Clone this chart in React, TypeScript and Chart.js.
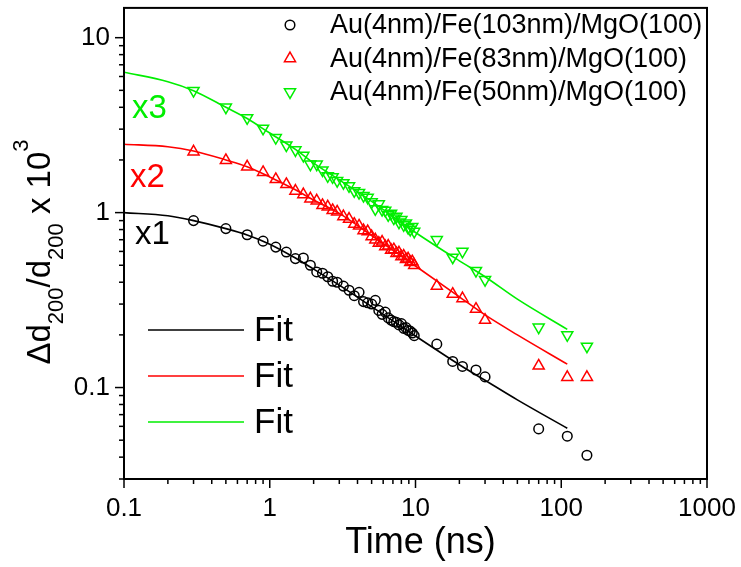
import React, { useEffect, useRef } from 'react';
import { Chart, registerables } from 'chart.js';

Chart.register(...registerables);

const FONT = "'Liberation Sans', Arial, Helvetica, sans-serif";

// shared measurement times (ns)
const TIMES = [
  0.3, 0.5, 0.7, 0.9, 1.1, 1.3, 1.5, 1.7, 1.9, 2.1, 2.3, 2.5, 2.7, 2.9,
  3.2, 3.5, 3.8, 4.1, 4.4, 4.7, 5.0, 5.3, 5.6, 5.9, 6.2, 6.5, 6.8, 7.1, 7.4, 7.7, 8.0, 8.3, 8.6, 8.9, 9.2, 9.5, 9.8,
  14, 18, 21, 26, 30, 70, 110, 150,
];

// Au(4nm)/Fe(103nm)/MgO(100)  (x1)
const SERIES_103 = [
  0.90, 0.81, 0.747, 0.687, 0.635, 0.595, 0.546, 0.55, 0.50, 0.458, 0.45, 0.43, 0.405, 0.40,
  0.38, 0.36, 0.335, 0.35, 0.31, 0.305, 0.30, 0.315, 0.276, 0.262, 0.27, 0.25, 0.243, 0.238, 0.236, 0.228, 0.232, 0.218, 0.22, 0.212, 0.21, 0.205, 0.198,
  0.177, 0.141, 0.132, 0.126, 0.115, 0.058, 0.0527, 0.041,
];

// Au(4nm)/Fe(83nm)/MgO(100)  (x2)
const SERIES_83 = [
  2.23, 1.99, 1.83, 1.70, 1.55, 1.45, 1.33, 1.27, 1.20, 1.17, 1.10, 1.08, 1.03, 1.01,
  0.95, 0.92, 0.86, 0.84, 0.79, 0.78, 0.73, 0.70, 0.67, 0.68, 0.64, 0.645, 0.61, 0.615, 0.585, 0.59, 0.56, 0.565, 0.54, 0.545, 0.52, 0.525, 0.50,
  0.38, 0.342, 0.323, 0.281, 0.243, 0.133, 0.1145, 0.1145,
];

// Au(4nm)/Fe(50nm)/MgO(100)  (x3)
const SERIES_50 = [
  4.98, 4.0, 3.48, 3.03, 2.68, 2.43, 2.28, 2.12, 1.89, 1.89, 1.75, 1.62, 1.60, 1.52,
  1.48, 1.42, 1.33, 1.30, 1.25, 1.22, 1.15, 1.05, 1.12, 1.04, 1.03, 0.97, 0.99, 0.93, 0.95, 0.88, 0.91, 0.85, 0.87, 0.82, 0.80, 0.83, 0.78,
  0.70, 0.555, 0.60, 0.466, 0.413, 0.221, 0.20, 0.172,
];

// fit curves
const FIT_TIMES = [0.1, 0.2, 0.3, 0.5, 0.7, 1, 1.5, 2, 3, 5, 10, 20, 30, 50, 110];
const FIT_103 = [1.0, 0.96, 0.90, 0.81, 0.745, 0.66, 0.55, 0.475, 0.385, 0.29, 0.197, 0.135, 0.11, 0.085, 0.0585];
const FIT_83 = [2.46, 2.38, 2.25, 2.0, 1.83, 1.6, 1.35, 1.18, 0.99, 0.74, 0.495, 0.33, 0.26, 0.2, 0.136];
const FIT_50 = [6.35, 5.6, 4.98, 4.0, 3.45, 2.85, 2.3, 1.92, 1.54, 1.16, 0.77, 0.53, 0.43, 0.32, 0.215];

const LEGEND_LABELS = ['Au(4nm)/Fe(103nm)/MgO(100)', 'Au(4nm)/Fe(83nm)/MgO(100)', 'Au(4nm)/Fe(50nm)/MgO(100)'];
const FIT_LABEL = 'Fit';
const MULTIPLIERS = ['x1', 'x2', 'x3'];
const X_TICK_LABELS = ['0.1', '1', '10', '100', '1000'];
const Y_TICK_LABELS = ['0.1', '1', '10'];
const X_TITLE = 'Time (ns)';

const BLACK = '#000000';
const RED = '#ff0000';
const GREEN = '#00ee00';
const COLORS = [BLACK, RED, GREEN];

const isPow10 = (v: number) => {
  const lg = Math.log10(v);
  return Math.abs(lg - Math.round(lg)) < 1e-6;
};
const isTickValue = (v: number) => {
  const lg = Math.floor(Math.log10(v) + 1e-9);
  const m = v / Math.pow(10, lg);
  return Math.abs(m - Math.round(m)) < 1e-6;
};

const CIRCLE_R = 4.8;
const TRI_R = 6.4;
const MARK_W = 1.5;

function drawMarker(ctx: CanvasRenderingContext2D, kind: string, x: number, y: number, color: string) {
  ctx.save();
  ctx.strokeStyle = color;
  ctx.lineWidth = MARK_W;
  ctx.beginPath();
  if (kind === 'circle') {
    ctx.arc(x, y, CIRCLE_R, 0, Math.PI * 2);
  } else {
    const r = TRI_R;
    let rad = kind === 'down' ? Math.PI : 0;
    ctx.moveTo(x + Math.sin(rad) * r, y - Math.cos(rad) * r);
    rad += (2 * Math.PI) / 3;
    ctx.lineTo(x + Math.sin(rad) * r, y - Math.cos(rad) * r);
    rad += (2 * Math.PI) / 3;
    ctx.lineTo(x + Math.sin(rad) * r, y - Math.cos(rad) * r);
    ctx.closePath();
  }
  ctx.stroke();
  ctx.restore();
}

const decorations = {
  id: 'decorations',
  afterDraw(chart: any) {
    const ctx: CanvasRenderingContext2D = chart.ctx;
    const { left, right, top, bottom } = chart.chartArea;
    const xs = chart.scales.x;
    const ys = chart.scales.y;
    ctx.save();

    // tick marks (outside)
    ctx.strokeStyle = '#000';
    ctx.lineWidth = 1.5;
    xs.ticks.forEach((t: any) => {
      if (!isTickValue(t.value)) return;
      const px = xs.getPixelForValue(t.value);
      const len = isPow10(t.value) ? 9 : 5;
      ctx.beginPath();
      ctx.moveTo(px, bottom);
      ctx.lineTo(px, bottom + len);
      ctx.stroke();
    });
    ys.ticks.forEach((t: any) => {
      if (!isTickValue(t.value)) return;
      const py = ys.getPixelForValue(t.value);
      const len = isPow10(t.value) ? 9 : 5;
      ctx.beginPath();
      ctx.moveTo(left, py);
      ctx.lineTo(left - len, py);
      ctx.stroke();
    });

    // frame
    ctx.lineWidth = 2;
    ctx.strokeRect(left, top, right - left, bottom - top);

    // x title
    ctx.fillStyle = '#000';
    ctx.font = `36px ${FONT}`;
    ctx.textAlign = 'center';
    ctx.textBaseline = 'alphabetic';
    ctx.fillText(X_TITLE, (left + right) / 2 + 5, 553);

    // y title with sub/superscripts
    ctx.save();
    ctx.translate(50, 252);
    ctx.rotate(-Math.PI / 2);
    const segs = [
      { t: '\u0394d', s: 33, dy: 0 },
      { t: '200', s: 22, dy: 13 },
      { t: '/d', s: 33, dy: 0 },
      { t: '200', s: 22, dy: 13 },
      { t: ' x 10', s: 33, dy: 0 },
      { t: '3', s: 22, dy: -22 },
    ];
    let total = 0;
    segs.forEach((g) => {
      ctx.font = `${g.s}px ${FONT}`;
      total += ctx.measureText(g.t).width;
    });
    let cx = -total / 2;
    ctx.textAlign = 'left';
    segs.forEach((g) => {
      ctx.font = `${g.s}px ${FONT}`;
      ctx.fillText(g.t, cx, g.dy);
      cx += ctx.measureText(g.t).width;
    });
    ctx.restore();

    // series legend (top right)
    const kinds = ['circle', 'up', 'down'];
    const rowsY = [25, 58.5, 92];
    ctx.font = `27px ${FONT}`;
    ctx.textAlign = 'left';
    ctx.textBaseline = 'middle';
    LEGEND_LABELS.forEach((lab, i) => {
      drawMarker(ctx, kinds[i], 290, rowsY[i], COLORS[i]);
      ctx.fillStyle = '#000';
      ctx.fillText(lab, 330, rowsY[i] + 1);
    });

    // fit legend (bottom left)
    const fitY = [330, 376, 422];
    ctx.font = `35px ${FONT}`;
    fitY.forEach((y, i) => {
      ctx.strokeStyle = COLORS[i];
      ctx.lineWidth = 1.6;
      ctx.beginPath();
      ctx.moveTo(148, y);
      ctx.lineTo(244, y);
      ctx.stroke();
      ctx.fillStyle = '#000';
      ctx.fillText(FIT_LABEL, 254, y + 1);
    });

    // multipliers
    ctx.font = `33px ${FONT}`;
    ctx.textBaseline = 'alphabetic';
    const mPos = [
      [135, 244],
      [130, 187],
      [132, 118],
    ];
    MULTIPLIERS.forEach((m, i) => {
      ctx.fillStyle = COLORS[i];
      ctx.fillText(m, mPos[i][0], mPos[i][1]);
    });

    ctx.restore();
  },
};

const pts = (times: number[], vals: number[]) => times.map((t, i) => ({ x: t, y: vals[i] }));

const zeroPad = (s: any) => {
  s.paddingTop = 0;
  s.paddingBottom = 0;
  s.paddingLeft = 0;
  s.paddingRight = 0;
};

export default function App() {
  const ref = useRef<HTMLCanvasElement>(null);
  useEffect(() => {
    const canvas = ref.current!;
    const markerDs = (vals: number[], color: string, style: string, rot: number, r: number) => ({
      data: pts(TIMES, vals),
      showLine: false,
      pointStyle: style,
      pointRotation: rot,
      pointRadius: r,
      pointBorderWidth: MARK_W,
      pointBorderColor: color,
      pointBackgroundColor: 'rgba(0,0,0,0)',
      borderColor: color,
      backgroundColor: 'rgba(0,0,0,0)',
    });
    const fitDs = (vals: number[], color: string) => ({
      data: pts(FIT_TIMES, vals),
      showLine: true,
      pointRadius: 0,
      borderColor: color,
      borderWidth: 1.6,
      cubicInterpolationMode: 'monotone',
      fill: false,
    });
    const chart = new Chart(canvas, {
      type: 'scatter',
      data: {
        datasets: [
          fitDs(FIT_103, BLACK),
          fitDs(FIT_83, RED),
          fitDs(FIT_50, GREEN),
          markerDs(SERIES_103, BLACK, 'circle', 0, CIRCLE_R),
          markerDs(SERIES_83, RED, 'triangle', 0, TRI_R),
          markerDs(SERIES_50, GREEN, 'triangle', 180, TRI_R),
        ] as any,
      },
      options: {
        responsive: false,
        animation: false,
        devicePixelRatio: 1,
        layout: { padding: { left: 0, top: 5, right: 34, bottom: 0 } },
        plugins: { legend: { display: false }, tooltip: { enabled: false }, title: { display: false } },
        scales: {
          x: {
            type: 'logarithmic',
            min: 0.1,
            max: 1000,
            grid: { display: false, drawTicks: false },
            border: { display: false },
            ticks: {
              autoSkip: false,
              maxRotation: 0,
              padding: 14,
              color: '#000',
              font: { family: FONT, size: 26 },
              callback: (v: any) => (isPow10(Number(v)) ? X_TICK_LABELS[Math.round(Math.log10(Number(v))) + 1] : ''),
            },
            afterFit: (s: any) => {
              s.height = 88;
              zeroPad(s);
            },
          },
          y: {
            type: 'logarithmic',
            min: 0.03,
            max: 14.8,
            grid: { display: false, drawTicks: false },
            border: { display: false },
            ticks: {
              autoSkip: false,
              padding: 14,
              color: '#000',
              font: { family: FONT, size: 26 },
              callback: (v: any) => (isPow10(Number(v)) ? Y_TICK_LABELS[Math.round(Math.log10(Number(v))) + 1] : ''),
            },
            afterFit: (s: any) => {
              s.width = 124;
              zeroPad(s);
            },
          },
        },
      } as any,
      plugins: [decorations],
    });
    return () => chart.destroy();
  }, []);
  return (
    <div style={{ position: 'fixed', left: 0, top: 0, width: 741, height: 567, background: '#fff' }}>
      <canvas ref={ref} width={741} height={567} style={{ display: 'block', width: 741, height: 567 }} />
    </div>
  );
}
